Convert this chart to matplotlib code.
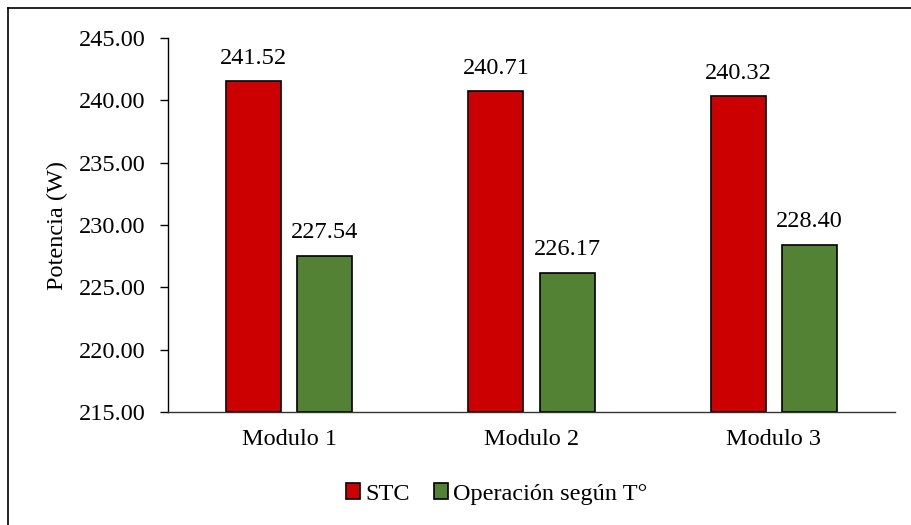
import numpy as np
import matplotlib.pyplot as plt
from matplotlib.lines import Line2D

modulos = ["Modulo 1", "Modulo 2", "Modulo 3"]
stc = [241.52, 240.71, 240.32]
operacion = [227.54, 226.17, 228.40]
series = ["STC", "Operación según T°"]
colores = ["#CC0000", "#548235"]

plt.rcParams["font.family"] = ["Liberation Serif", "DejaVu Serif"]
fs = 17.5

fig = plt.figure(figsize=(9.11, 5.25), dpi=100)
ax = fig.add_axes([168 / 911, 1 - 412 / 525, (895 - 168) / 911, (412 - 38) / 525])

x = np.arange(len(modulos))
ancho = 0.227
desp = 0.147
b1 = ax.bar(x - desp, np.array(stc) - 215, ancho, bottom=215, color=colores[0],
            edgecolor="black", linewidth=1.2, label=series[0])
b2 = ax.bar(x + desp, np.array(operacion) - 215, ancho, bottom=215, color=colores[1],
            edgecolor="black", linewidth=1.2, label=series[1])

for barras, vals in ((b1, stc), (b2, operacion)):
    for rect, v in zip(barras, vals):
        ax.annotate(f"{v:.2f}", (rect.get_x() + rect.get_width() / 2, v),
                    xytext=(0, 9), textcoords="offset points",
                    ha="center", va="bottom", fontsize=fs)

ax.set_xlim(-0.5, 2.5)
ax.set_ylim(215, 245)
ax.set_yticks(np.arange(215, 246, 5))
ax.set_yticklabels([f"{t:.2f}" for t in np.arange(215, 246, 5)])
ax.set_xticks(x)
ax.set_xticklabels(modulos)
ax.tick_params(axis="y", labelsize=fs, direction="out", length=6, width=1, pad=10)
ax.tick_params(axis="x", labelsize=fs, length=0, pad=12)
ax.set_ylabel("Potencia (W)", fontsize=fs, labelpad=8)

for s in ("top", "right"):
    ax.spines[s].set_visible(False)
ax.spines["left"].set_linewidth(1)
ax.spines["bottom"].set_linewidth(1)
ax.spines["bottom"].set_color("#333333")

# marco del gráfico (izquierda y arriba)
fig.add_artist(Line2D([0.009, 0.009], [0, 0.985], color="black", lw=1.2))
fig.add_artist(Line2D([0.009, 1.0], [0.985, 0.985], color="black", lw=1.2))

fig.legend(handles=[b1, b2], labels=series, loc="center", bbox_to_anchor=(0.545, 1 - 494 / 525),
           ncol=2, frameon=False, fontsize=fs, handlelength=0.6, handleheight=0.6,
           handletextpad=0.2, columnspacing=1.0)

fig.savefig("out.png", dpi=100)
